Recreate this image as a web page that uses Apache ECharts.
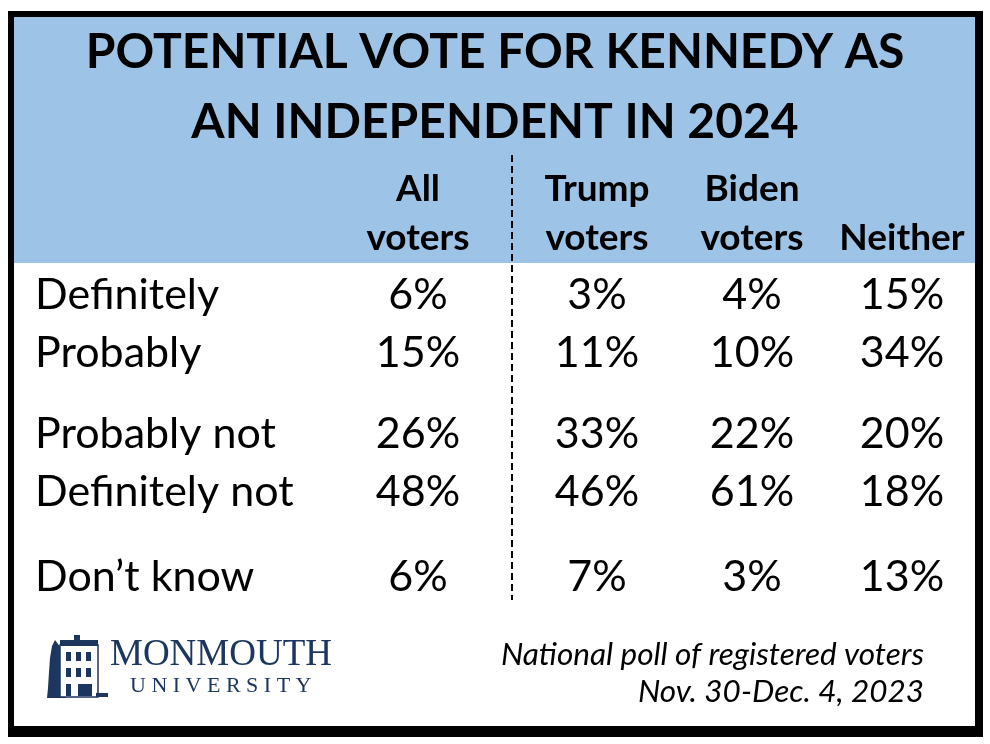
<!DOCTYPE html>
<html>
<head>
<meta charset="utf-8">
<title>Potential vote for Kennedy as an independent in 2024</title>
<script src="https://cdn.jsdelivr.net/npm/echarts@6/dist/echarts.min.js"></script>
<style>
  html, body { margin: 0; padding: 0; background: #fff; }
  #main { width: 990px; height: 744px; }
</style>
</head>
<body>
<div id="main"></div>
<script>
// table data
const columns = ['All\nvoters', 'Trump\nvoters', 'Biden\nvoters', 'Neither'];
const rows = ['Definitely', 'Probably', 'Probably not', 'Definitely not', 'Don’t know'];
const allVoters = [6, 15, 26, 48, 6];
const trumpVoters = [3, 11, 33, 46, 7];
const bidenVoters = [4, 10, 22, 61, 3];
const neither = [15, 34, 20, 18, 13];
const values = [allVoters, trumpVoters, bidenVoters, neither];

// layout: row groups are separated by small gaps
const rowGroups = [[0, 1], [2, 3], [4]];
const groupTops = [266, 405, 548];
const rowH = 58;
const colCenters = [418, 597, 752, 902];
const colW = 140;

const font = 'Lato, "Open Sans", sans-serif';
const navy = '#1d3660';

const grid = [], xAxis = [], yAxis = [], series = [];
let gi = 0;
columns.forEach(function (col, c) {
  rowGroups.forEach(function (grp, g) {
    grid.push({
      left: colCenters[c] - colW / 2,
      width: colW,
      top: groupTops[g],
      height: grp.length * rowH
    });
    xAxis.push({
      type: 'category',
      gridIndex: gi,
      position: 'top',
      data: [col],
      axisLine: { show: false },
      axisTick: { show: false },
      splitLine: { show: false },
      axisLabel: {
        show: g === 0,
        margin: 3,
        verticalAlign: 'bottom',
        fontFamily: font,
        fontWeight: 'bold',
        fontSize: 37,
        lineHeight: 49,
        color: '#000'
      }
    });
    yAxis.push({
      type: 'category',
      gridIndex: gi,
      inverse: true,
      data: grp.map(function (r) { return rows[r]; }),
      axisLine: { show: false },
      axisTick: { show: false },
      splitLine: { show: false },
      axisLabel: {
        show: c === 0,
        align: 'left',
        margin: colCenters[0] - colW / 2 - 35,
        fontFamily: font,
        fontSize: 43,
        color: '#000'
      }
    });
    series.push({
      type: 'scatter',
      xAxisIndex: gi,
      yAxisIndex: gi,
      symbolSize: 0,
      itemStyle: { color: '#000' },
      silent: true,
      data: grp.map(function (r, i) { return [0, i, values[c][r]]; }),
      label: {
        show: true,
        position: 'inside',
        formatter: function (p) { return p.value[2] + '%'; },
        fontFamily: font,
        fontSize: 43,
        color: '#000',
        opacity: 1
      }
    });
    gi++;
  });
});

const chart = echarts.init(document.getElementById('main'));
chart.setOption({
  animation: false,
  title: {
    text: 'POTENTIAL VOTE FOR KENNEDY AS\nAN INDEPENDENT IN 2024',
    left: 'center',
    top: 13,
    textStyle: {
      fontFamily: font,
      fontWeight: 'bold',
      fontSize: 48,
      lineHeight: 70,
      color: '#000'
    }
  },
  grid: grid,
  xAxis: xAxis,
  yAxis: yAxis,
  series: series,
  graphic: [
    // frame, header band
    { type: 'rect', z: -10, shape: { x: 8, y: 11, width: 975, height: 726 }, style: { fill: '#000' } },
    { type: 'rect', z: -9, shape: { x: 14, y: 17, width: 961, height: 709 }, style: { fill: '#fff' } },
    { type: 'rect', z: -8, shape: { x: 14, y: 17, width: 961, height: 246 }, style: { fill: '#9dc3e6' } },
    // dashed divider
    { type: 'line', z: 5, shape: { x1: 512, y1: 155, x2: 512, y2: 600 },
      style: { stroke: '#000', lineWidth: 2, lineDash: [7, 4] } },
    // source note
    { type: 'text', x: 924, y: 636,
      style: {
        text: 'National poll of registered voters\nNov. 30-Dec. 4, 2023',
        align: 'right', verticalAlign: 'top',
        fontFamily: font, fontStyle: 'italic', fontSize: 31.5, lineHeight: 37, fill: '#000'
      } },
    // logo
    { type: 'group', x: 0, y: 0, children: [
      { type: 'polygon', shape: { points: [[55, 640], [61, 648], [63, 660], [64, 675], [65, 690], [66, 698], [47, 698], [48, 688], [49, 672], [50, 658], [52, 646]] },
        style: { fill: navy } },
      { type: 'rect', shape: { x: 60, y: 645, width: 38, height: 52 }, style: { fill: '#fff', stroke: navy, lineWidth: 1.5 } },
      { type: 'rect', shape: { x: 60, y: 640, width: 38, height: 6 }, style: { fill: navy } },
      { type: 'rect', shape: { x: 74, y: 635, width: 6, height: 6 }, style: { fill: navy } },
      { type: 'rect', shape: { x: 66, y: 652, width: 5, height: 9 }, style: { fill: navy } },
      { type: 'rect', shape: { x: 76, y: 652, width: 5, height: 9 }, style: { fill: navy } },
      { type: 'rect', shape: { x: 86, y: 652, width: 5, height: 9 }, style: { fill: navy } },
      { type: 'rect', shape: { x: 66, y: 668, width: 5, height: 9 }, style: { fill: navy } },
      { type: 'rect', shape: { x: 76, y: 668, width: 5, height: 9 }, style: { fill: navy } },
      { type: 'rect', shape: { x: 86, y: 668, width: 5, height: 9 }, style: { fill: navy } },
      { type: 'rect', shape: { x: 66, y: 684, width: 5, height: 12 }, style: { fill: navy } },
      { type: 'rect', shape: { x: 78, y: 684, width: 14, height: 12 }, style: { fill: navy } },
      { type: 'rect', shape: { x: 96, y: 693, width: 12, height: 4 }, style: { fill: navy } },
      { type: 'text', x: 110, y: 655,
        style: { text: 'MONMOUTH', fontFamily: '"Liberation Serif", serif', fontSize: 37,
          fill: navy, verticalAlign: 'middle' } },
      { type: 'text', x: 130, y: 686,
        style: { text: 'U N I V E R S I T Y', fontFamily: '"Liberation Serif", serif', fontSize: 22,
          fill: navy, verticalAlign: 'middle' } }
    ] }
  ]
});
</script>
</body>
</html>
